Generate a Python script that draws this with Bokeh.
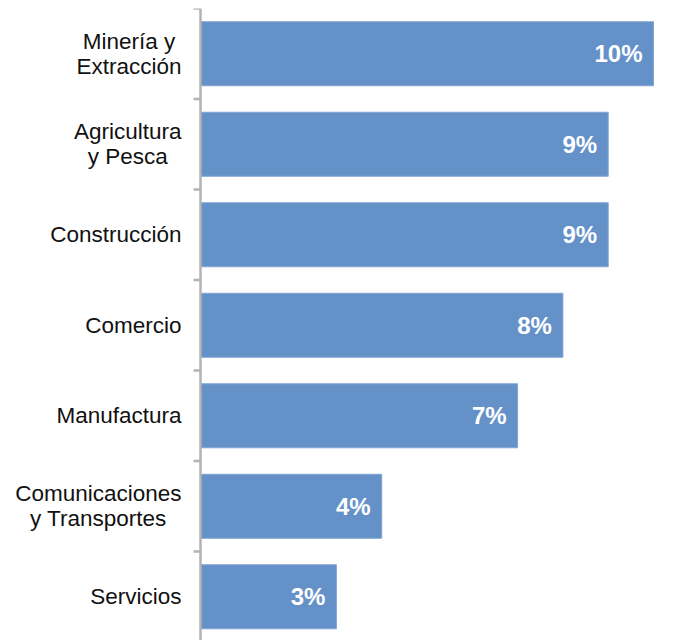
import math
from bokeh.plotting import figure
from bokeh.models import Range1d, ColumnDataSource, Span
from bokeh.core.properties import value
from bokeh.embed import file_html
from bokeh.resources import INLINE

categories = ["Minería y\nExtracción", "Agricultura\ny Pesca", "Construcción", "Comercio",
              "Manufactura", "Comunicaciones\ny Transportes", "Servicios"]
values = [10, 9, 9, 8, 7, 4, 3]
value_labels = ["10%", "9%", "9%", "8%", "7%", "4%", "3%"]

n = len(categories)
ypos = [n - 1 - i for i in range(n)]
boundaries = [y + 0.5 for y in range(-1, n)]

src = ColumnDataSource(dict(y=ypos, v=values, lab=value_labels, cat=categories,
                            zero=[0] * n))

p = figure(width=695, height=640, output_backend="svg", toolbar_location=None,
           x_range=Range1d(-4.415, 10.927), y_range=Range1d(n - 0.5 - 6.983, n - 0.5),
           min_border_left=0, min_border_right=0, min_border_top=8, min_border_bottom=0)
p.outline_line_color = None
p.grid.visible = False
p.xaxis.visible = False
p.yaxis.visible = False

p.hbar(y="y", right="v", left=0, height=0.707, source=src,
       fill_color="#6591C9", line_color="#7FA4D6", line_width=1)

# category axis: line and tick marks between categories
p.add_layout(Span(location=0, dimension="height", line_color="#B3B3B3", line_width=2.5))
p.ray(x=[0] * len(boundaries), y=boundaries, length=7, length_units="screen",
      angle=math.pi, line_color="#B3B3B3", line_width=2.5)

p.text(x="v", y="y", text="lab", source=src, x_offset=-11,
       text_align="right", text_baseline="middle", text_color="white",
       text_font=value("Liberation Sans"), text_font_style="bold", text_font_size="24px")

p.text(x="zero", y="y", text="cat", source=src, x_offset=-19,
       text_align="center", anchor="center_right", text_color="#111111",
       text_font=value("Liberation Sans"), text_font_size="22.5px", text_line_height=1.0)

open("out.html", "w").write(file_html(p, INLINE))
